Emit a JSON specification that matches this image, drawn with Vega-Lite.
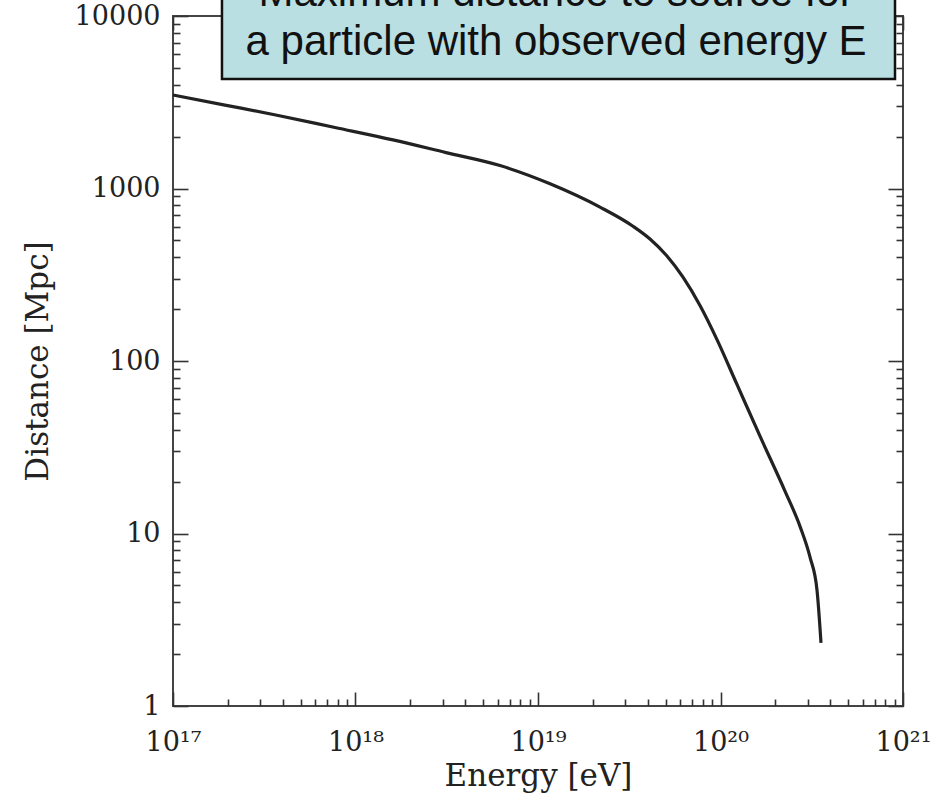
{
  "$schema": "https://vega.github.io/schema/vega-lite/v6.json",
  "autosize": {"type": "none"},
  "width": 730,
  "height": 690,
  "padding": {"left": 173, "top": 16, "right": 31, "bottom": 90},
  "background": "white",
  "config": {
    "view": {"stroke": "#444", "strokeWidth": 2},
    "axis": {
      "domain": false,
      "grid": false,
      "tickColor": "#333",
      "tickWidth": 1.6,
      "labelFont": "DejaVu Serif",
      "labelFontSize": 27,
      "labelColor": "#222",
      "labelFlush": false,
      "labelOverlap": false,
      "labelBound": false,
      "titleFont": "DejaVu Serif",
      "titleFontSize": 31,
      "titleFontWeight": "normal",
      "titleColor": "#222"
    }
  },
  "datasets": {
    "curve": [
      {"E": 1e17, "D": 3483},
      {"E": 1.927e17, "D": 3045},
      {"E": 3.714e17, "D": 2660},
      {"E": 7.72e17, "D": 2257},
      {"E": 1.605e18, "D": 1913},
      {"E": 3.133e18, "D": 1615},
      {"E": 6.19e18, "D": 1358},
      {"E": 1.164e19, "D": 1065},
      {"E": 2.187e19, "D": 780},
      {"E": 3.315e19, "D": 604.6},
      {"E": 4.109e19, "D": 509.6},
      {"E": 5.09e19, "D": 406.1},
      {"E": 6.23e19, "D": 306.1},
      {"E": 7.72e19, "D": 209.8},
      {"E": 9.568e19, "D": 133.1},
      {"E": 1.231e20, "D": 73.1},
      {"E": 1.646e20, "D": 36.65},
      {"E": 2.256e20, "D": 17.61},
      {"E": 2.727e20, "D": 11.0},
      {"E": 3.094e20, "D": 7.29},
      {"E": 3.379e20, "D": 4.7},
      {"E": 3.554e20, "D": 2.32}
    ],
    "note": [
      {"E1": 1.855e17, "E2": 9.04e20, "D1": 4313, "D2": 30000, "Emid": 1.256e19, "Dline1": 11430, "Dline2": 5943,
       "line1": "Maximum distance to source for", "line2": "a particle with observed energy E"}
    ]
  },
  "resolve": {"scale": {"x": "shared", "y": "shared"}, "axis": {"x": "independent", "y": "independent"}},
  "layer": [
    {
      "data": {"name": "curve"},
      "mark": {"type": "line", "color": "#222", "strokeWidth": 3.2, "interpolate": "monotone", "clip": false},
      "encoding": {
        "x": {"field": "E", "type": "quantitative",
              "scale": {"type": "log", "domain": [1e17, 1e21], "nice": false},
              "axis": {"orient": "bottom", "title": "Energy [eV]", "values": [1e17, 1e18, 1e19, 1e20, 1e21],
                       "tickSize": -14, "labelPadding": 37, "titlePadding": 6,
                       "labelExpr": "datum.value < 5e17 ? '10¹⁷' : datum.value < 5e18 ? '10¹⁸' : datum.value < 5e19 ? '10¹⁹' : datum.value < 5e20 ? '10²⁰' : '10²¹'"}},
        "y": {"field": "D", "type": "quantitative",
              "scale": {"type": "log", "domain": [1, 10000], "nice": false},
              "axis": {"orient": "left", "title": "Distance [Mpc]", "values": [1, 10, 100, 1000, 10000],
                       "tickSize": -15, "labelPadding": 28, "titlePadding": 20,
                       "labelExpr": "format(datum.value, 'd')"}}
      }
    },
    {
      "data": {"name": "note"},
      "mark": {"type": "rect", "fill": "#b9dfe2", "stroke": "#111", "strokeWidth": 2.5, "clip": false},
      "encoding": {
        "x": {"field": "E1", "type": "quantitative",
              "scale": {"type": "log", "domain": [1e17, 1e21], "nice": false},
              "axis": {"orient": "bottom", "title": null, "labels": false, "tickSize": -7,
                       "values": [2e17,3e17,4e17,5e17,6e17,7e17,8e17,9e17,2e18,3e18,4e18,5e18,6e18,7e18,8e18,9e18,2e19,3e19,4e19,5e19,6e19,7e19,8e19,9e19,2e20,3e20,4e20,5e20,6e20,7e20,8e20,9e20]}},
        "x2": {"field": "E2"},
        "y": {"field": "D1", "type": "quantitative",
              "scale": {"type": "log", "domain": [1, 10000], "nice": false},
              "axis": {"orient": "left", "title": null, "labels": false, "tickSize": -7,
                       "values": [2,3,4,5,6,7,8,9,20,30,40,50,60,70,80,90,200,300,400,500,600,700,800,900,2000,3000,4000,5000,6000,7000,8000,9000]}},
        "y2": {"field": "D2"}
      }
    },
    {
      "data": {"name": "note"},
      "mark": {"type": "text", "font": "Liberation Sans", "fontSize": 42, "color": "#111", "align": "center", "baseline": "alphabetic", "clip": false},
      "encoding": {
        "x": {"field": "Emid", "type": "quantitative",
              "scale": {"type": "log", "domain": [1e17, 1e21], "nice": false},
              "axis": {"orient": "top", "title": null, "labels": false, "tickSize": -14, "values": [1e17, 1e18, 1e19, 1e20, 1e21]}},
        "y": {"field": "Dline1", "type": "quantitative",
              "scale": {"type": "log", "domain": [1, 10000], "nice": false},
              "axis": {"orient": "right", "title": null, "labels": false, "tickSize": -15, "values": [1, 10, 100, 1000, 10000]}},
        "text": {"field": "line1"}
      }
    },
    {
      "data": {"name": "note"},
      "mark": {"type": "text", "font": "Liberation Sans", "fontSize": 42, "color": "#111", "align": "center", "baseline": "alphabetic", "clip": false},
      "encoding": {
        "x": {"field": "Emid", "type": "quantitative",
              "scale": {"type": "log", "domain": [1e17, 1e21], "nice": false},
              "axis": {"orient": "top", "title": null, "labels": false, "tickSize": -7,
                       "values": [2e17,3e17,4e17,5e17,6e17,7e17,8e17,9e17,2e18,3e18,4e18,5e18,6e18,7e18,8e18,9e18,2e19,3e19,4e19,5e19,6e19,7e19,8e19,9e19,2e20,3e20,4e20,5e20,6e20,7e20,8e20,9e20]}},
        "y": {"field": "Dline2", "type": "quantitative",
              "scale": {"type": "log", "domain": [1, 10000], "nice": false},
              "axis": {"orient": "right", "title": null, "labels": false, "tickSize": -7,
                       "values": [2,3,4,5,6,7,8,9,20,30,40,50,60,70,80,90,200,300,400,500,600,700,800,900,2000,3000,4000,5000,6000,7000,8000,9000]}},
        "text": {"field": "line2"}
      }
    }
  ]
}
